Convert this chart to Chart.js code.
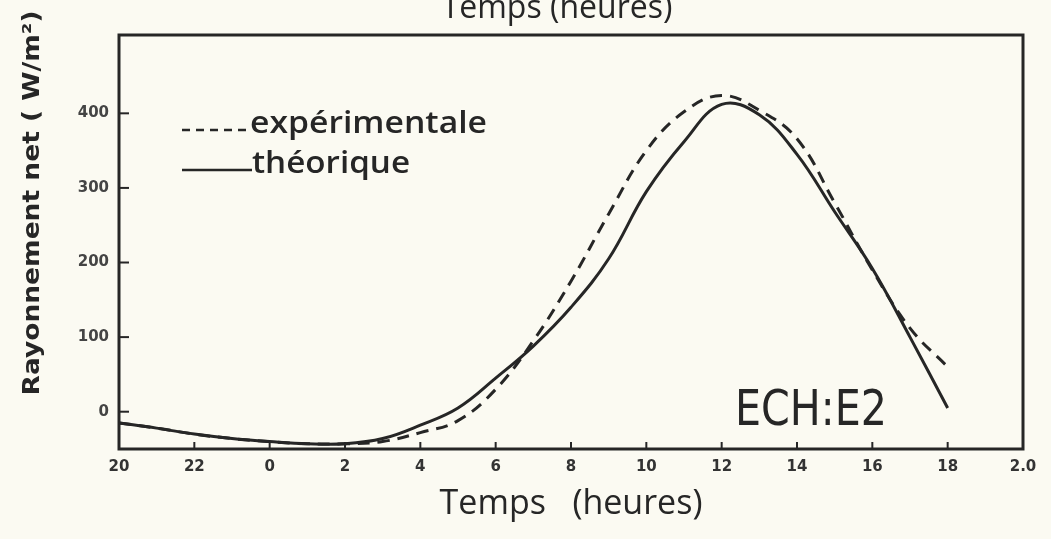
<!DOCTYPE html>
<html>
<head>
<meta charset="utf-8">
<script src="https://cdn.jsdelivr.net/npm/chart.js@4"></script>
<style>
  html, body { margin:0; padding:0; background:#fbfaf2; }
  #wrap { width:1051px; height:539px; position:relative; }
</style>
</head>
<body>
<div id="wrap"><canvas id="c" width="1051" height="539"></canvas></div>
<script>
// hours elapsed since 20h (x position), and clock labels for ticks
const timeOffset = [0,1,2,3,4,5,6,7,8,9,10,11,12,13,14,15,16,17,18,19,20,21,22];
const xTickOffsets = [0,2,4,6,8,10,12,14,16,18,20,22,24];
const xTickLabels = ["20","22","0","2","4","6","8","10","12","14","16","18","2.0"];
const yTickValues = [0,100,200,300,400];
// Rayonnement net (W/m2)
const experimentale = [-15,-22,-30,-36,-40,-43,-43,-40,-28,-12,30,95,175,265,350,402,424,404,366,280,190,112,60];
const theorique     = [-15,-22,-30,-36,-40,-43,-43,-36,-18,5,45,88,140,205,295,362,412,398,345,268,192,100,5];

const ink = '#262626';
const toPts = arr => arr.map((v,i)=>({x:timeOffset[i], y:v}));

const framePlugin = {
  id:'frame',
  afterDatasetsDraw(chart){
    const {ctx, chartArea:a, scales} = chart;
    ctx.save();
    ctx.strokeStyle = ink; ctx.lineWidth = 3;
    ctx.strokeRect(a.left, a.top, a.right-a.left, a.bottom-a.top);
    ctx.lineWidth = 2;
    yTickValues.forEach(v=>{
      const y = scales.y.getPixelForValue(v);
      ctx.beginPath(); ctx.moveTo(a.left, y); ctx.lineTo(a.left+10, y); ctx.stroke();
    });
    xTickOffsets.slice(1,-1).forEach(v=>{
      const x = scales.x.getPixelForValue(v);
      ctx.beginPath(); ctx.moveTo(x, a.bottom); ctx.lineTo(x, a.bottom-7); ctx.stroke();
    });
    // legend
    ctx.lineWidth = 2.5;
    ctx.setLineDash([8,6]);
    ctx.beginPath(); ctx.moveTo(182,130); ctx.lineTo(250,130); ctx.stroke();
    ctx.setLineDash([]);
    ctx.beginPath(); ctx.moveTo(182,170); ctx.lineTo(252,170); ctx.stroke();
    ctx.fillStyle = ink;
    ctx.textBaseline = 'alphabetic'; ctx.textAlign = 'left';
    ctx.font = '600 30px "Open Sans", sans-serif';
    const w1 = ctx.measureText('expérimentale').width;
    ctx.save(); ctx.translate(250,133); ctx.scale(237/w1,1); ctx.fillText('expérimentale',0,0); ctx.restore();
    const w2 = ctx.measureText('théorique').width;
    ctx.save(); ctx.translate(252,173); ctx.scale(158/w2,1); ctx.fillText('théorique',0,0); ctx.restore();
    // scale annotation
    ctx.font = '50px "DejaVu Sans", sans-serif';
    const w3 = ctx.measureText('ECH:E2').width;
    ctx.save(); ctx.translate(735,425); ctx.scale(152/w3,1); ctx.fillText('ECH:E2',0,0); ctx.restore();
    // cut-off top title
    ctx.textAlign = 'center';
    ctx.font = '32px "Open Sans", sans-serif';
    ctx.fillText('Temps (heures)', 557, 18);
    // y-axis title
    ctx.save();
    ctx.translate(33, 203); ctx.rotate(-Math.PI/2);
    ctx.font = 'bold 23px "DejaVu Sans", sans-serif';
    const w4 = ctx.measureText('Rayonnement net ( W/m²)').width;
    ctx.scale(385/w4,1);
    ctx.textBaseline = 'middle';
    ctx.fillText('Rayonnement net ( W/m²)', 0, 0);
    ctx.restore();
    ctx.restore();
  }
};

new Chart(document.getElementById('c'), {
  type:'line',
  data:{
    datasets:[
      { label:'expérimentale', data:toPts(experimentale), borderColor:ink, borderWidth:3,
        borderDash:[12,8], pointRadius:0, tension:0.4, fill:false },
      { label:'théorique', data:toPts(theorique), borderColor:ink, borderWidth:3,
        pointRadius:0, tension:0.4, fill:false }
    ]
  },
  options:{
    responsive:false, animation:false,
    layout:{ padding:{ top:35, right:28, left:0, bottom:0 } },
    plugins:{ legend:{display:false}, tooltip:{enabled:false}, title:{display:false} },
    scales:{
      x:{
        type:'linear', min:0, max:24,
        afterBuildTicks: s => { s.ticks = xTickOffsets.map(v=>({value:v})); },
        afterFit: s => { s.height = 90; },
        grid:{ display:false, drawTicks:false }, border:{ display:false },
        ticks:{ autoSkip:false, maxRotation:0, padding:9, color:'#333',
          font:{ family:'"DejaVu Sans", sans-serif', size:15, weight:'bold' },
          callback: v => { const i = xTickOffsets.indexOf(v); return i>=0 ? xTickLabels[i] : ''; } },
        title:{ display:true, text:'Temps   (heures)', color:ink, padding:{top:0,bottom:14},
          font:{ family:'"Open Sans", sans-serif', size:34 } }
      },
      y:{
        type:'linear', min:-50, max:505,
        afterBuildTicks: s => { s.ticks = yTickValues.map(v=>({value:v})); },
        afterFit: s => { s.width = 119; },
        grid:{ display:false, drawTicks:false }, border:{ display:false },
        ticks:{ padding:10, color:'#444',
          font:{ family:'"DejaVu Sans", sans-serif', size:15, weight:'bold' } },
        title:{ display:false }
      }
    }
  },
  plugins:[framePlugin]
});
</script>
</body>
</html>
